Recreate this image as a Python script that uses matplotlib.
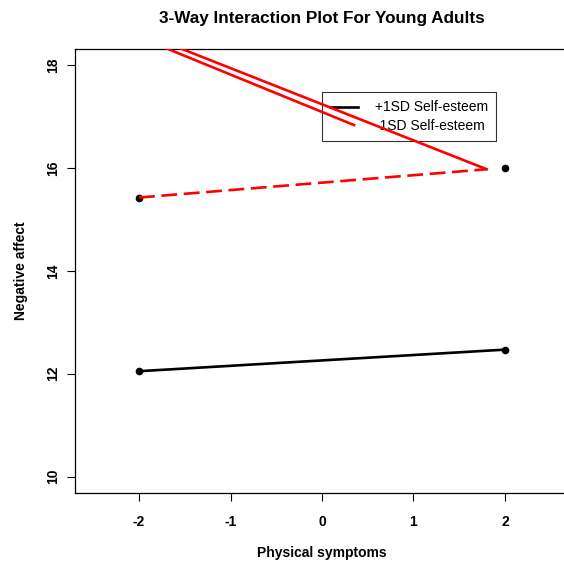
import matplotlib
matplotlib.use("Agg")
import matplotlib.pyplot as plt
from matplotlib.lines import Line2D

plt.rcParams["font.family"] = ["Liberation Sans", "DejaVu Sans"]
plt.rcParams["axes.unicode_minus"] = False

# data
symptoms = [-2, 2]
high_se = [12.05, 12.47]
low_se_pts = [15.43, 16.0]
low_se_dash_x = [-2, 1.8]
low_se_dash_y = [15.43, 15.98]
stray_a_x = [-2, 1.8]
stray_a_y = [18.65, 15.98]
stray_b_x = [-2, 0.35]
stray_b_y = [18.55, 16.84]
xticks = [-2, -1, 0, 1, 2]
yticks = [10, 12, 14, 16, 18]

fig = plt.figure(figsize=(5.64, 5.64), dpi=100)
# plot region runs off the right edge like the original
ax = fig.add_axes([75 / 564, 71 / 564, 494 / 564, 444 / 564])

ax.plot(symptoms, high_se, color="black", lw=1.9, solid_capstyle="butt")
ax.plot(symptoms, high_se, "o", color="black", ms=4.5)
ax.plot(symptoms, low_se_pts, "o", color="black", ms=4.5)
ax.plot(low_se_dash_x, low_se_dash_y, color="red", lw=1.9, dashes=(6, 2.5))
ax.plot(stray_a_x, stray_a_y, color="red", lw=1.9, zorder=6)
ax.plot(stray_b_x, stray_b_y, color="red", lw=1.9, zorder=6)

ax.set_xlim(-2.7, 2.7)
ax.set_ylim(9.68, 18.32)
ax.set_xticks(xticks)
ax.set_yticks(yticks)
ax.tick_params(direction="out", length=6, width=0.8, labelsize=10)
ax.tick_params(axis="x", pad=10)
ax.tick_params(axis="y", pad=5)
for lab in ax.get_xticklabels() + ax.get_yticklabels():
    lab.set_fontweight("bold")
for lab in ax.get_yticklabels():
    lab.set_rotation(90)
    lab.set_va("center")
for s in ax.spines.values():
    s.set_linewidth(0.9)

ax.set_xlabel("Physical symptoms", fontsize=10, fontweight="bold", labelpad=12)
ax.set_ylabel("Negative affect", fontsize=10, fontweight="bold", labelpad=13)
fig.text(322 / 564, 1 - 18 / 564, "3-Way Interaction Plot For Young Adults",
         ha="center", va="center", fontsize=12.3, fontweight="bold")

handles = [Line2D([], [], color="black", lw=1.9),
           Line2D([], [], color="none")]
leg = ax.legend(handles, ["+1SD Self-esteem", "-1SD Self-esteem"],
                loc="upper left", bbox_to_anchor=(0.5, 0.903), fontsize=10,
                frameon=True, fancybox=False, handlelength=2.0,
                labelspacing=0.3, borderpad=0.6, handletextpad=1.2,
                borderaxespad=0)
leg.get_frame().set_edgecolor("black")
leg.get_frame().set_linewidth(0.8)
leg.set_zorder(5)

fig.savefig("out.png", dpi=100)
